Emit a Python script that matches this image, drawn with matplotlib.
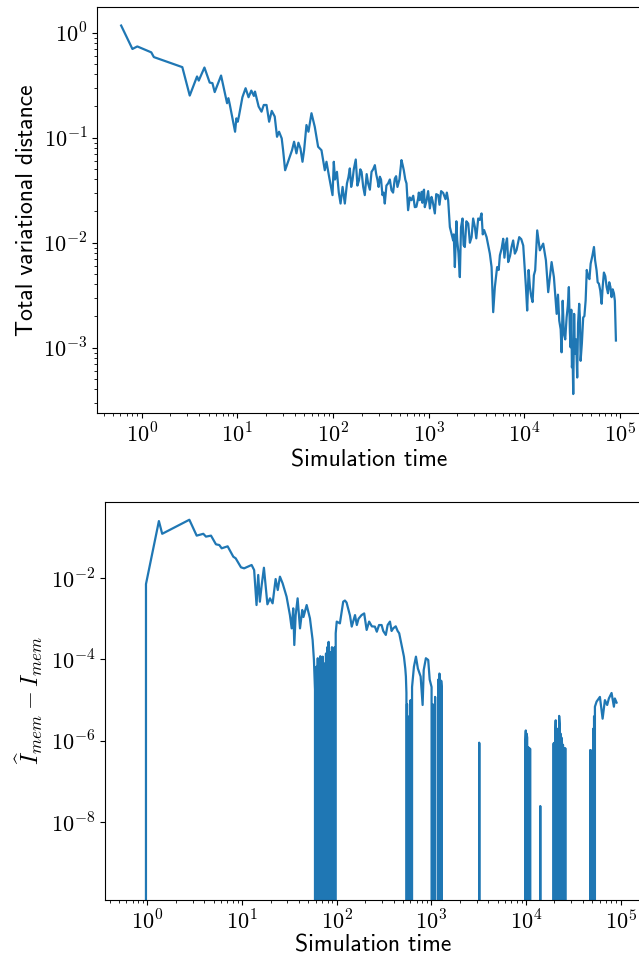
import numpy as np
import matplotlib
matplotlib.use("Agg")
import matplotlib.pyplot as plt
from matplotlib.ticker import FuncFormatter, LogLocator, NullFormatter, FixedLocator, NullLocator

plt.rcParams['mathtext.fontset'] = 'cm'
plt.rcParams['font.family'] = ['cmss10', 'DejaVu Sans']
plt.rcParams['axes.unicode_minus'] = False

# ---- Top panel: total variational distance ----
tv_time = [0.61, 0.80, 0.90, 1.26, 1.34, 2.66, 3.18, 3.79, 3.95, 4.53, 5.14, 5.49, 5.80, 6.76,
           7.81, 8.07, 8.33, 9.47, 9.78, 10.1, 10.4, 11.3, 12.2, 13.1, 14.0, 14.9, 15.3, 16.7,
           17.9, 18.9, 20.2, 21.5, 22.9, 24.6, 26.0, 27.3, 29.1, 30.1, 31.6, 33.9, 37.3, 39.2,
           41.5, 43.5, 45.7, 48.0, 49.9, 52.8, 55.4, 59.6, 64.5, 69.9, 75.8, 82.1, 85.5, 91.1,
           98.9, 102, 105, 110, 115, 120, 126, 133, 140, 145, 150, 155, 160, 165, 173, 180,
           187, 193, 199, 207, 215, 225, 233, 243, 253, 263, 274, 283, 292, 300, 309, 318,
           329, 338, 348, 362, 377, 393, 409, 425, 443, 457, 472, 495, 520, 535, 550, 570,
           587, 610, 635, 661, 690, 717, 745, 776, 790, 809, 843, 860, 877, 895, 912, 950,
           988, 1030, 1072, 1100, 1161, 1200, 1258, 1300, 1350, 1419, 1500, 1550, 1600, 1667,
           1805, 1830, 1880, 1950, 1990, 2050, 2120, 2180, 2261, 2320, 2390, 2480, 2594,
           2700, 2812, 2920, 3043, 3150, 3297, 3430, 3573, 3680, 3800, 4036, 4365, 4549,
           4732, 4923, 5200, 5400, 5560, 5800, 6020, 6200, 6425, 6600, 6790, 7100, 7360,
           7650, 7970, 8300, 8850, 9300, 9750, 10140, 10400, 10720, 11100, 11450, 11800,
           12210, 12600, 13000, 13650, 14550, 15770, 16830, 17790, 19300, 20400, 21800,
           22500, 23200, 24000, 24550, 25200, 25960, 26800, 27700, 28500, 29250, 30000,
           30460, 31000, 31470, 32000, 32500, 33200, 33830, 34800, 35750, 36500, 37500,
           38200, 38800, 40000, 41300, 42500, 43800, 45000, 46650, 48000, 49400, 51500,
           53500, 55000, 57000, 58500, 60300, 62300, 64400, 66000, 68000, 70300, 72600,
           75000, 77300, 79500, 81800, 84000, 86500, 88500, 90800]
tv_value = [1.17, 0.70, 0.74, 0.65, 0.586, 0.47, 0.252, 0.383, 0.35, 0.466, 0.335, 0.331,
            0.272, 0.391, 0.213, 0.238, 0.208, 0.114, 0.153, 0.142, 0.161, 0.243, 0.296,
            0.243, 0.281, 0.25, 0.275, 0.198, 0.177, 0.205, 0.205, 0.142, 0.18, 0.159, 0.102,
            0.114, 0.0986, 0.076, 0.049, 0.059, 0.076, 0.0916, 0.071, 0.0896, 0.079, 0.059,
            0.076, 0.132, 0.114, 0.171, 0.127, 0.082, 0.076, 0.049, 0.059, 0.0425, 0.0284,
            0.059, 0.040, 0.0473, 0.030, 0.0236, 0.034, 0.0236, 0.0367, 0.042, 0.051, 0.034,
            0.0394, 0.050, 0.062, 0.035, 0.0394, 0.050, 0.0473, 0.034, 0.0284, 0.045, 0.0367,
            0.032, 0.0473, 0.050, 0.0548, 0.045, 0.0394, 0.034, 0.0425, 0.040, 0.0284, 0.030,
            0.0236, 0.035, 0.0367, 0.040, 0.0316, 0.030, 0.0408, 0.043, 0.034, 0.040, 0.0612,
            0.055, 0.049, 0.040, 0.0367, 0.0204, 0.027, 0.0254, 0.028, 0.0218, 0.022, 0.0264,
            0.030, 0.0254, 0.0305, 0.024, 0.0305, 0.032, 0.0218, 0.025, 0.031, 0.0212, 0.0273,
            0.025, 0.019, 0.029, 0.0284, 0.023, 0.031, 0.0298, 0.026, 0.030, 0.0254, 0.0141,
            0.0105, 0.012, 0.00586, 0.016, 0.0105, 0.008, 0.0047, 0.014, 0.017, 0.0095, 0.0091,
            0.016, 0.0152, 0.010, 0.0113, 0.017, 0.0141, 0.011, 0.017, 0.0165, 0.019, 0.012,
            0.0132, 0.0113, 0.00787, 0.00586, 0.00218, 0.00378, 0.00586, 0.0055, 0.0076,
            0.0088, 0.0109, 0.0072, 0.0098, 0.011, 0.00654, 0.0075, 0.0091, 0.0105, 0.00787,
            0.0085, 0.0113, 0.0108, 0.0094, 0.00545, 0.0038, 0.00226, 0.0055, 0.00378, 0.0031,
            0.00272, 0.0049, 0.00545, 0.0131, 0.00846, 0.0098, 0.0068, 0.00338, 0.00654,
            0.0047, 0.0021, 0.0032, 0.00181, 0.0015, 0.000904, 0.0028, 0.00135, 0.0012,
            0.00194, 0.0025, 0.00378, 0.0014, 0.00101, 0.0023, 0.00065, 0.0008, 0.000362,
            0.0021, 0.000875, 0.0012, 0.00052, 0.0017, 0.00262, 0.0019, 0.00075, 0.0011,
            0.00194, 0.0020, 0.00282, 0.0055, 0.0047, 0.0045, 0.0063, 0.0075, 0.0091, 0.0068,
            0.00545, 0.0042, 0.00407, 0.0035, 0.00262, 0.0038, 0.0052, 0.0048, 0.00378,
            0.0033, 0.0042, 0.0038, 0.00303, 0.0036, 0.0033, 0.0028, 0.00117]

# ---- Bottom panel: I_hat_mem - I_mem (zeros fall off the log axis) ----
mi_time = [0.61, 0.80, 0.90, 0.964, 1.32, 1.43, 2.77, 3.31, 3.89, 4.15, 4.69, 5.29, 5.74,
           6.08, 7.03, 8.07, 8.55, 9.73, 10.5, 12.6, 13.4, 14.2, 14.8, 15.4, 16.1, 17.0, 18.5,
           19.7, 21.0, 22.6, 23.8, 25.1, 26.8, 29.5, 32.0, 33.4, 34.7, 35.6, 36.8, 38.6, 40.9,
           43.2, 44.5, 48.1, 52.1, 55.6, 57.4, 58.9, 60.0, 61.0, 62.0, 63.0, 64.0, 65.0, 66.0,
           67.0, 68.0, 69.0, 70.0, 71.0, 72.0, 73.0, 74.0, 75.0, 76.0, 77.0, 78.0, 79.5, 81.0,
           82.0, 83.0, 84.5, 86.0, 87.5, 89.0, 90.5, 92.0, 93.5, 95.0, 96.5, 97.5, 100, 108,
           117, 122, 127, 133, 138, 144, 150, 156, 163, 170, 183, 195, 207, 220, 235, 253,
           265, 280, 298, 310, 330, 345, 365, 380, 395, 420, 440, 457, 485, 513, 530, 538,
           545, 547, 553, 558, 565, 575, 583, 603, 610, 617, 625, 654, 687, 720, 770, 808,
           830, 875, 926, 960, 1005, 1015, 1031, 1045, 1060, 1080, 1095, 1117, 1140, 1183,
           1200, 1215, 1230, 1250, 1270, 1290, 1313, 3180, 3200, 3215, 3230, 9750, 9850,
           9950, 10050, 10150, 10300, 10400, 10550, 10700, 10800, 10950, 11100, 11190,
           14100, 14150, 14250, 19400, 19600, 19800, 20000, 20200, 20400, 20600, 20800,
           21000, 21200, 21400, 21600, 21800, 22000, 22200, 22400, 22700, 23000, 23200,
           23400, 23700, 24000, 24300, 24600, 24900, 25300, 25600, 26000, 26400, 47300,
           47600, 48000, 48400, 48800, 49200, 49600, 50000, 50400, 50800, 51200, 51600,
           52000, 52400, 52800, 53500, 55700, 60400, 64500, 68200, 72100, 75100, 80200,
           84900, 86900, 90600]
mi_value = [0, 0, 0, 0.0071, 0.251, 0.122, 0.27, 0.11, 0.122, 0.104, 0.11, 0.0673, 0.0646,
            0.0537, 0.0601, 0.0334, 0.0305, 0.0183, 0.0173, 0.0209, 0.0157, 0.00217, 0.0119,
            0.00262, 0.0067, 0.0179, 0.00226, 0.00317, 0.00239, 0.00944, 0.00507, 0.0108,
            0.0074, 0.00348, 0.00123, 0.00058, 0.0018, 0.000226, 0.00123, 0.00317, 0.00058,
            0.00164, 0.0011, 0.00217, 0.00102, 0.0003, 9.7e-5, 1.8e-5, 0, 6.6e-5, 0, 1.07e-4,
            0, 4e-5, 0, 1.2e-4, 0, 9e-5, 0, 1.17e-4, 0, 5.5e-5, 0, 8e-5, 0, 1.4e-4, 0, 2e-4,
            0, 2.7e-4, 6e-5, 0, 1.5e-4, 0, 2e-4, 0, 6.6e-5, 0, 2e-4, 0, 4.4e-4, 8.5e-4,
            7.7e-4, 0.00262, 0.0028, 0.0025, 0.00164, 0.0012, 6.4e-4, 9e-4, 0.00123, 7e-4,
            0.001, 0.00123, 0.00135, 5.3e-4, 8.5e-4, 6.5e-4, 6.4e-4, 4.8e-4, 7e-4, 7e-4,
            5e-4, 4e-4, 7e-4, 8.5e-4, 5e-4, 5.8e-4, 6.5e-4, 5e-4, 4.4e-4, 2.26e-4, 1.17e-4,
            6e-5, 3.8e-5, 1.5e-5, 0, 8e-6, 0, 4e-6, 0, 0, 1e-5, 0, 0, 2.1e-5, 6.6e-5,
            1.17e-4, 6e-5, 3.8e-5, 7.6e-6, 5.5e-5, 1.07e-4, 9.7e-5, 3.2e-5, 2.1e-5, 0, 8e-6,
            0, 5.3e-6, 0, 1.2e-5, 0, 0, 3.2e-5, 0, 4.5e-5, 4.2e-5, 0, 3e-5, 1.8e-5, 0, 0,
            9e-7, 8.5e-7, 0, 0, 1.0e-6, 1.8e-6, 0, 1.5e-6, 1.2e-6, 0, 7e-7, 6.6e-7, 0,
            6.5e-7, 6.3e-7, 0, 0, 2.5e-8, 0, 0, 8.7e-7, 0, 9e-7, 0, 1.2e-6, 3.2e-6, 0, 2e-6,
            0, 1.5e-6, 9e-7, 0, 2e-6, 0, 4.1e-6, 2.5e-6, 0, 1.5e-6, 0, 1.2e-6, 9e-7, 0, 8e-7,
            0, 6.6e-7, 0, 6.6e-7, 0, 0, 5.9e-7, 0, 5.9e-7, 0, 4.5e-7, 0, 4e-7, 0, 5e-7, 0,
            2e-6, 0, 4e-6, 0, 6.9e-6, 9.2e-6, 1.2e-5, 3.5e-6, 1e-5, 7.6e-6, 1.1e-5, 1.5e-5,
            6.9e-6, 1.1e-5, 8.7e-6]

x_decades = [0, 1, 2, 3, 4, 5]
top_y_decades = [-3, -2, -1, 0]
bottom_y_decades = [-8, -6, -4, -2]

W, H = 639, 956
fig = plt.figure(figsize=(W / 100, H / 100), dpi=100)

def pow_fmt(v, pos):
    if v <= 0:
        return ''
    e = int(round(np.log10(v)))
    return r'$10^{%d}$' % e

color = '#1f77b4'
tick_fs = 16
label_fs = 17

ax1 = fig.add_axes([97.3 / W, 1 - 412.7 / H, (640.5 - 97.3) / W, (412.7 - 7.3) / H])
ax1.plot(tv_time, tv_value, color=color, lw=1.6)
ax1.set_xscale('log')
ax1.set_yscale('log')
ax1.set_xlim(10 ** -0.464, 10 ** 5.215)
ax1.set_ylim(10 ** -3.619, 10 ** 0.242)
ax1.xaxis.set_major_locator(FixedLocator([10.0 ** d for d in x_decades]))
ax1.yaxis.set_major_locator(FixedLocator([10.0 ** d for d in top_y_decades]))
ax1.xaxis.set_minor_locator(LogLocator(base=10, subs=np.arange(2, 10), numticks=20))
ax1.yaxis.set_minor_locator(LogLocator(base=10, subs=np.arange(2, 10), numticks=20))
for a in (ax1.xaxis, ax1.yaxis):
    a.set_major_formatter(FuncFormatter(pow_fmt))
    a.set_minor_formatter(NullFormatter())
ax1.tick_params(labelsize=tick_fs)
ax1.set_xlabel('Simulation time', fontsize=label_fs, labelpad=2)
ax1.set_ylabel('Total variational distance', fontsize=label_fs, labelpad=4)

ax2 = fig.add_axes([105 / W, 1 - 900 / H, (640.5 - 105) / W, (900 - 501.7) / H])
ax2.plot(mi_time, mi_value, color=color, lw=1.6)
ax2.set_xscale('log')
ax2.set_yscale('log', nonpositive='clip')
ax2.set_xlim(10 ** -0.449, 10 ** 5.21)
ax2.set_ylim(10 ** -9.91, 10 ** -0.125)
ax2.xaxis.set_major_locator(FixedLocator([10.0 ** d for d in x_decades]))
ax2.yaxis.set_major_locator(FixedLocator([10.0 ** d for d in bottom_y_decades]))
ax2.xaxis.set_minor_locator(LogLocator(base=10, subs=np.arange(2, 10), numticks=20))
ax2.yaxis.set_minor_locator(NullLocator())
for a in (ax2.xaxis, ax2.yaxis):
    a.set_major_formatter(FuncFormatter(pow_fmt))
    a.set_minor_formatter(NullFormatter())
ax2.tick_params(labelsize=tick_fs)
ax2.set_xlabel('Simulation time', fontsize=label_fs, labelpad=0.5)
ax2.set_ylabel(r'$\widehat{I}_{mem} - I_{mem}$', fontsize=17.5)

fig.savefig('out.png', dpi=100)
